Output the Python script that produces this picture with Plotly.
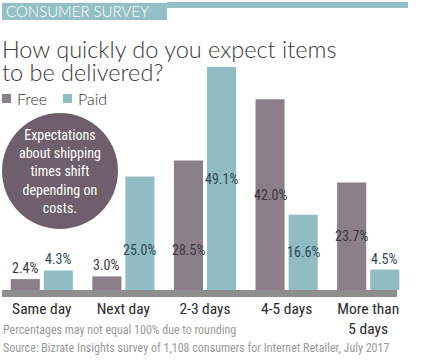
import plotly.graph_objects as go

categories = ["Same day", "Next day", "2-3 days", "4-5 days", "More than<br>5 days"]
free_values = [2.4, 3.0, 28.5, 42.0, 23.7]
paid_values = [4.3, 25.0, 49.1, 16.6, 4.5]
free_labels = ["2.4%", "3.0%", "28.5%", "42.0%", "23.7%"]
paid_labels = ["4.3%", "25.0%", "49.1%", "16.6%", "4.5%"]
# label placement mode per bar: "out" above bar, "mid" middle of bar, "low" lower part
free_label_mode = ["out", "out", "low", "mid", "mid"]
paid_label_mode = ["out", "low", "mid", "mid", "out"]

FREE_C = "#8b7f89"
PAID_C = "#90bdc4"
CIRCLE_C = "#6f5e6c"
NARROW = "Roboto Condensed, DejaVu Sans Condensed, sans-serif"
LIGHT = "Lato Light, Lato, sans-serif"

W, H = 422, 360
L, R, T, B = 1, 13, 60, 63
PW, PH = W - L - R, H - T - B
Y0_PX = 290
PX_PER_UNIT = 4.54
y_lo = -(H - B - Y0_PX) / PX_PER_UNIT
y_hi = (Y0_PX - T) / PX_PER_UNIT


def px(x):
    return (x - L) / PW


def py(y):
    return (H - B - y) / PH


fig = go.Figure()
fig.add_trace(go.Bar(x=categories, y=free_values, name="Free", marker_color=FREE_C,
                     marker_line_width=0, hoverinfo="skip"))
fig.add_trace(go.Bar(x=categories, y=paid_values, name="Paid", marker_color=PAID_C,
                     marker_line_width=0, hoverinfo="skip"))

annotations = []


def label_y(v, mode):
    if mode == "out":
        return v
    if mode == "mid":
        return v / 2
    return 8.8


for vals, labs, modes, shift, col in [
    (free_values, free_labels, free_label_mode, -16.5, "#3c3742"),
    (paid_values, paid_labels, paid_label_mode, 16.5, "#2f4a52"),
]:
    for c, v, t, m in zip(categories, vals, labs, modes):
        annotations.append(dict(
            x=c, y=label_y(v, m), xref="x", yref="y", text=t, showarrow=False,
            xshift=shift, yanchor="bottom" if m == "out" else "middle",
            yshift=1 if m == "out" else 0,
            font=dict(family=NARROW, size=14, color=col)))

# title
annotations.append(dict(x=px(0), y=py(49), xref="paper", yref="paper", xanchor="left",
                        yanchor="middle", text="How quickly do you expect items", showarrow=False,
                        font=dict(family=LIGHT, size=23.5, color="#3a3a3a")))
annotations.append(dict(x=px(0), y=py(72), xref="paper", yref="paper", xanchor="left",
                        yanchor="middle", text="to be delivered?", showarrow=False,
                        font=dict(family=LIGHT, size=23.5, color="#3a3a3a")))
# header text
annotations.append(dict(x=px(4), y=py(11.5), xref="paper", yref="paper", xanchor="left",
                        yanchor="middle", text="CONSUMER SURVEY", showarrow=False,
                        font=dict(family=LIGHT, size=15, color="white")))
# legend
annotations.append(dict(x=px(15), y=py(98), xref="paper", yref="paper", xanchor="left",
                        yanchor="middle", text="Free", showarrow=False,
                        font=dict(family=LIGHT, size=16, color="#333333")))
annotations.append(dict(x=px(76), y=py(98), xref="paper", yref="paper", xanchor="left",
                        yanchor="middle", text="Paid", showarrow=False,
                        font=dict(family=LIGHT, size=16, color="#333333")))
# circle text
annotations.append(dict(x=px(60), y=py(171), xref="paper", yref="paper", xanchor="center",
                        yanchor="middle",
                        text="Expectations<br>about shipping<br>times shift<br>depending on<br>costs.",
                        showarrow=False,
                        font=dict(family=NARROW, size=14, color="white")))
# footer
annotations.append(dict(x=px(1), y=py(330), xref="paper", yref="paper", xanchor="left",
                        yanchor="middle", text="Percentages may not equal 100% due to rounding",
                        showarrow=False, font=dict(family=NARROW, size=12, color="#9a9a9a")))
annotations.append(dict(x=px(1), y=py(348), xref="paper", yref="paper", xanchor="left",
                        yanchor="middle",
                        text="Source: Bizrate Insights survey of 1,108 consumers for Internet Retailer, July 2017",
                        showarrow=False, font=dict(family=NARROW, size=12, color="#9a9a9a")))

shapes = [
    # header
    dict(type="rect", xref="paper", yref="paper", x0=px(2), x1=px(167), y0=py(20), y1=py(3),
         fillcolor="#93c0c6", line_width=0),
    dict(type="rect", xref="paper", yref="paper", x0=px(167), x1=px(408), y0=py(8), y1=py(2),
         fillcolor="#93c0c6", line_width=0),
    # legend squares
    dict(type="rect", xref="paper", yref="paper", x0=px(2), x1=px(11), y0=py(103), y1=py(94),
         fillcolor=FREE_C, line_width=0),
    dict(type="rect", xref="paper", yref="paper", x0=px(63), x1=px(72), y0=py(103), y1=py(94),
         fillcolor=PAID_C, line_width=0),
    # baseline
    dict(type="rect", xref="paper", yref="y", x0=px(2), x1=px(397), y0=y_lo, y1=0,
         fillcolor="#8e8e8e", line_width=0, layer="below"),
    # circle
    dict(type="circle", xref="paper", yref="paper", x0=px(2), x1=px(118), y0=py(229), y1=py(113),
         fillcolor=CIRCLE_C, line_width=0, layer="below"),
]

fig.update_layout(
    width=W, height=H,
    margin=dict(l=L, r=R, t=T, b=B, autoexpand=False),
    paper_bgcolor="white", plot_bgcolor="white",
    barmode="group", bargap=0.19, bargroupgap=0.12,
    showlegend=False,
    xaxis=dict(showgrid=False, zeroline=False, showline=False, ticks="", automargin=False,
               tickfont=dict(family=NARROW, size=15.5, color="#2a2a2a"), fixedrange=True),
    yaxis=dict(range=[y_lo, y_hi], visible=False, fixedrange=True, automargin=False),
    annotations=annotations,
    shapes=shapes,
)

fig.write_html("out.html", config={"displayModeBar": False},
               post_script="document.body.style.margin='0';")
